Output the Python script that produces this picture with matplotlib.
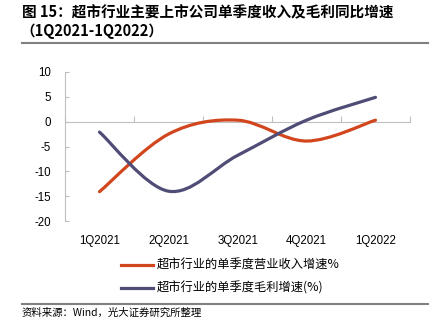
import numpy as np
import matplotlib
matplotlib.use('Agg')
import matplotlib.pyplot as plt
from matplotlib.path import Path
from matplotlib.patches import PathPatch
from matplotlib.lines import Line2D

quarters = ['1Q2021', '2Q2021', '3Q2021', '4Q2021', '1Q2022']
revenue = [-14.1, -2.5, 0.3, -3.9, 0.3]
gross = [-2.1, -14.0, -6.8, 0.3, 4.9]
names = ['超市行业的单季度营业收入增速%', '超市行业的单季度毛利增速(%)']
colors = ['#D2461E', '#4F4C76']

cjk = ['Noto Sans CJK SC', 'DejaVu Sans']
num = ['Liberation Sans', 'DejaVu Sans']
plt.rcParams['axes.unicode_minus'] = False


def smooth_path(xs, ys):
    # excel-like smoothed line: cubic bezier through each point
    p = np.column_stack([xs, ys]).astype(float)
    ext = np.vstack([p[0], p, p[-1]])
    verts = [p[0]]
    codes = [Path.MOVETO]
    for i in range(len(p) - 1):
        p0, p1, p2, p3 = ext[i], ext[i + 1], ext[i + 2], ext[i + 3]
        verts += [p1 + (p2 - p0) / 6, p2 - (p3 - p1) / 6, p2]
        codes += [Path.CURVE4] * 3
    return Path(verts, codes)


fig = plt.figure(figsize=(4.33, 3.34), dpi=100)
ax = fig.add_axes([65 / 433, 1 - 221 / 334, 345 / 433, 149 / 334])

x = np.arange(len(quarters))
for ys, c in zip([revenue, gross], colors):
    ax.add_patch(PathPatch(smooth_path(x, ys), facecolor='none', edgecolor=c,
                           lw=2.3, capstyle='round', transform=ax.transData))

ax.set_xlim(-0.5, len(quarters) - 0.5)
ax.set_ylim(-20, 10)
ax.set_yticks(np.arange(-20, 11, 5))
ax.set_xticks(x)
ax.set_xticklabels(quarters, fontfamily=num, fontsize=8.3)
ax.tick_params(axis='x', length=0, pad=10)
ax.tick_params(axis='y', direction='in', length=3, color='#BFBFBF', pad=10, labelsize=8.3)
for lab in ax.get_yticklabels():
    lab.set_fontfamily(num)
for s in ['top', 'right', 'bottom']:
    ax.spines[s].set_visible(False)
ax.spines['left'].set_color('#BFBFBF')
ax.spines['left'].set_linewidth(0.8)

# category axis sitting on zero
sec = ax.secondary_xaxis(0, transform=ax.transData)
sec.set_xticks(np.arange(-0.5, len(quarters), 1.0))
sec.set_xticklabels([])
sec.tick_params(direction='in', length=4, color='#BFBFBF')
sec.spines['bottom'].set_color('#BFBFBF')
sec.spines['bottom'].set_linewidth(0.8)

handles = [Line2D([], [], color=c, lw=2.3) for c in colors]
fig.legend(handles, names, loc='upper left', bbox_to_anchor=(110 / 433, 1 - 248 / 334),
           frameon=False, prop={'family': cjk, 'size': 8.8}, handlelength=2.6,
           handletextpad=0.3, labelspacing=0.8)

fig.text(22 / 433, 1 - 12 / 334, '图 15：超市行业主要上市公司单季度收入及毛利同比增速',
         family=cjk, fontsize=10.5, fontweight='bold', va='center', ha='left')
fig.text(20 / 433, 1 - 31 / 334, '（1Q2021-1Q2022）',
         family=cjk, fontsize=10.5, fontweight='bold', va='center', ha='left')
fig.add_artist(Line2D([22 / 433, 428 / 433], [1 - 43 / 334] * 2, color='#808080', lw=1.5))
fig.add_artist(Line2D([22 / 433, 428 / 433], [1 - 304 / 334] * 2, color='#808080', lw=1.5))
fig.text(22 / 433, 1 - 313 / 334, '资料来源：Wind，光大证券研究所整理',
         family=cjk, fontsize=7.5, va='center', ha='left')

fig.savefig('out.png', dpi=100)
